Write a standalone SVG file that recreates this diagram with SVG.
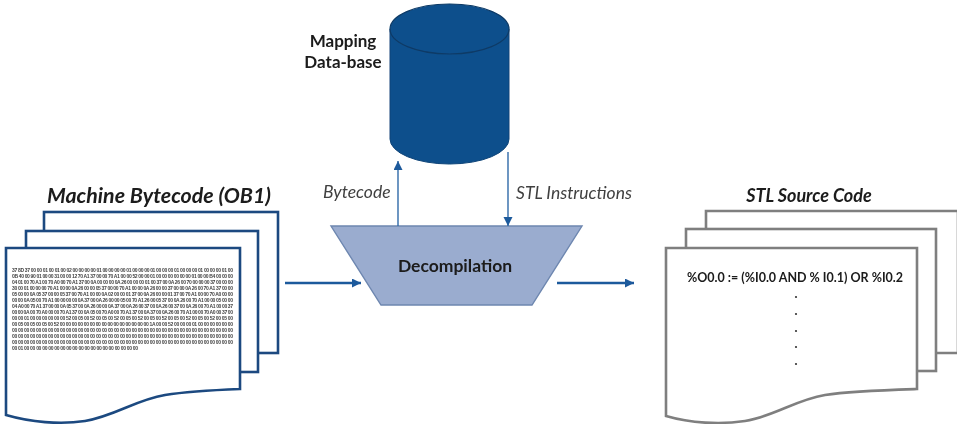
<svg xmlns="http://www.w3.org/2000/svg" width="957" height="424" viewBox="0 0 957 424">
<style>
text{font-family:Lato,"Open Sans","Liberation Sans",sans-serif;fill:#1a1a1a}
.bp{fill:#fff;stroke:#1c4a80;stroke-width:2.6}
.gp{fill:#fff;stroke:#7f7f7f;stroke-width:2.6}
.hex text{font-family:"Liberation Sans",sans-serif;font-size:5px;font-weight:700;fill:#444}
.lab{font-style:italic;font-size:17.5px;fill:#404040}
.conn{fill:none;stroke:#2e6aa8;stroke-width:1.4}
.thick{fill:none;stroke:#1f5a9c;stroke-width:2.6}
</style>
<defs>
<filter id="soft" x="-5%" y="-5%" width="110%" height="110%"><feGaussianBlur stdDeviation="0.4"/></filter>
<marker id="ah" markerUnits="userSpaceOnUse" markerWidth="10" markerHeight="10" refX="9" refY="4.5" orient="auto"><path d="M0 0L9 4.5L0 9Z" fill="#1f5a9c"/></marker>
</defs>
<rect width="957" height="424" fill="#fff"/>
<g filter="url(#soft)">
<g id="bytecode-doc">
<text x="159" y="203" text-anchor="middle" font-size="21" font-weight="700" font-style="italic" textLength="224" lengthAdjust="spacingAndGlyphs">Machine Bytecode (OB1)</text>
<rect class="bp" x="44" y="212" width="234" height="141"/>
<rect class="bp" x="26" y="231" width="232" height="141"/>
<path class="bp" d="M6 248H240V389C215 390 190 391 165 395C135 400 115 416 85 421C60 425 30 422 6 415Z"/>
<g class="hex">
<text x="12" y="272" textLength="221">37 8D 37 00 00 01 00 01 00 02 00 00 00 00 01 00 00 00 00 01 00 00 00 01 00 00 00 01 00 00 00 01 00 00 00 01 00</text>
<text x="12" y="278" textLength="221">0B 40 00 90 01 00 00 31 00 00 12 70 A1 37 00 00 70 A1 00 00 52 00 00 01 00 00 00 00 00 00 01 00 00 B4 00 00 00</text>
<text x="12" y="284" textLength="221">04 01 00 70 A1 00 70 A0 00 70 A1 37 00 0A 00 00 00 0A 26 00 00 00 01 00 37 00 0A 26 00 70 00 00 00 37 00 00 00</text>
<text x="12" y="290" textLength="221">30 00 01 00 00 00 70 A1 00 00 0A 26 00 00 05 37 00 00 70 A1 00 00 0A 26 00 00 37 00 00 0A 26 00 70 A1 37 00 00</text>
<text x="12" y="296" textLength="221">05 00 00 0A 05 37 00 00 05 37 00 70 A1 00 00 0A 02 00 00 01 37 00 0A 26 00 00 01 37 00 70 A1 00 00 70 A0 00 00</text>
<text x="12" y="302" textLength="221">00 00 0A 05 00 70 A1 00 00 00 00 0A 37 00 0A 26 00 00 05 00 70 A1 26 00 05 37 00 0A 26 00 70 A1 00 00 05 00 00</text>
<text x="12" y="308" textLength="221">04 A0 00 70 A1 37 00 00 0A 05 37 00 0A 26 00 00 0A 37 00 0A 26 00 37 00 0A 26 00 37 00 0A 26 00 70 A1 00 00 37</text>
<text x="12" y="314" textLength="221">00 00 0A 00 70 A0 00 00 70 A1 37 00 0A 05 00 70 A0 00 70 A1 37 00 0A 37 00 0A 26 00 70 A1 00 00 70 A0 00 37 00</text>
<text x="12" y="320" textLength="221">00 00 01 00 00 00 00 00 00 52 00 05 00 52 00 05 00 52 00 05 00 52 00 05 00 52 00 05 00 52 00 05 00 52 00 05 00</text>
<text x="12" y="326" textLength="221">00 05 00 05 00 05 00 52 00 00 00 00 00 00 00 00 00 00 00 00 00 00 00 1A 00 00 52 00 00 00 01 00 00 00 00 00 00</text>
<text x="12" y="332" textLength="221">00 00 00 00 00 00 00 00 00 00 00 00 00 00 00 00 00 00 00 00 00 00 00 00 00 00 00 00 00 00 00 00 00 00 00 00 00</text>
<text x="12" y="338" textLength="221">00 00 00 00 00 00 00 00 00 00 00 00 00 00 00 00 00 00 00 00 00 00 00 00 00 00 00 00 00 00 00 00 00 00 00 00 00</text>
<text x="12" y="344" textLength="221">00 00 00 00 00 00 00 00 00 00 00 00 00 00 00 00 00 00 00 00 00 00 00 00 00 00 00 00 00 00 00 00 00 00 00 00 00</text>
<text x="12" y="349.500" textLength="126">00 01 00 00 00 00 00 00 00 00 00 00 00 00 00 00 00 00 00 00 00</text>
</g>
</g>
<g id="mapping-database">
<path d="M390 29V139A59.500 25 0 0 0 509 139V29Z" fill="#11508c" stroke="#0f4478"/>
<ellipse cx="449.500" cy="29" rx="59.500" ry="25" fill="#11508c" stroke="#0c3a66" stroke-width="1.200"/>
<text x="343" y="47" text-anchor="middle" font-size="17" font-weight="700">Mapping</text>
<text x="343" y="68" text-anchor="middle" font-size="17" font-weight="700">Data-base</text>
</g>
<g id="decompilation">
<path d="M331 226H582L532 305H381Z" fill="#9aaccf" stroke="#6e87b0" stroke-width="1.400"/>
<text x="455" y="272" text-anchor="middle" font-size="17.500" font-weight="700">Decompilation</text>
</g>
<g id="stl-doc">
<text x="809" y="202" text-anchor="middle" font-size="18" font-weight="700" font-style="italic">STL Source Code</text>
<path class="gp" d="M706 353V211H958V353Z"/>
<rect class="gp" x="686" y="229" width="250" height="142"/>
<path class="gp" d="M666 248H917V389C885 390 850 391 825 395C795 400 775 416 745 421C720 425 690 423 666 416Z"/>
<text x="795" y="282" text-anchor="middle" font-size="12.500" font-weight="700" fill="#333">%O0.0 := (%I0.0 AND % I0.1) OR %I0.2</text>
<g fill="#333"><circle cx="796" cy="297" r="1.100"/><circle cx="796" cy="314" r="1.100"/><circle cx="796" cy="331" r="1.100"/><circle cx="796" cy="347" r="1.100"/><circle cx="796" cy="364" r="1.100"/></g>
</g>
<g id="connectors">
<path class="conn" d="M398 226V161" marker-end="url(#ah)"/>
<path class="conn" d="M508 152V226" marker-end="url(#ah)"/>
<path class="thick" d="M285 283H361" marker-end="url(#ah)"/>
<path class="thick" d="M557 283H634" marker-end="url(#ah)"/>
</g>
<g id="labels">
<text class="lab" x="323" y="198">Bytecode</text>
<text class="lab" x="516" y="199">STL Instructions</text>
</g>
</g>
</svg>
